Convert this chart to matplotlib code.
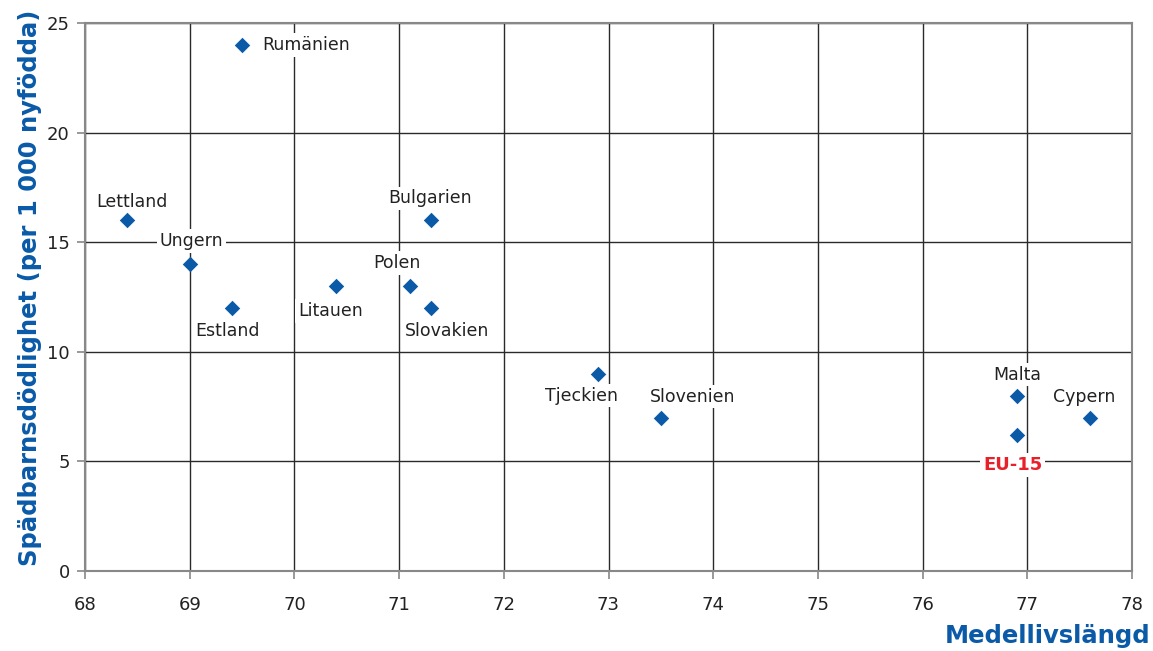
import matplotlib
matplotlib.use("Agg")
import matplotlib.pyplot as plt

countries = ["Rumänien", "Lettland", "Ungern", "Estland", "Litauen", "Bulgarien",
             "Polen", "Slovakien", "Tjeckien", "Slovenien", "Malta", "Cypern", "EU-15"]
life_exp = [69.5, 68.4, 69.0, 69.4, 70.4, 71.3, 71.1, 71.3, 72.9, 73.5, 76.9, 77.6, 76.9]
infant_mort = [24, 16, 14, 12, 13, 16, 13, 12, 9, 7, 8, 7, 6.2]

x_ticks = [68, 69, 70, 71, 72, 73, 74, 75, 76, 77, 78]
y_ticks = [0, 5, 10, 15, 20, 25]

# label offsets in pixels (dx, dy), alignment
offsets = {
    "Rumänien": (20, 0, "left"),
    "Lettland": (5, 18, "center"),
    "Ungern": (2, 23, "center"),
    "Estland": (-4, -23, "center"),
    "Litauen": (-6, -25, "center"),
    "Bulgarien": (0, 22, "center"),
    "Polen": (-13, 23, "center"),
    "Slovakien": (17, -23, "center"),
    "Tjeckien": (-17, -22, "center"),
    "Slovenien": (32, 21, "center"),
    "Malta": (0, 21, "center"),
    "Cypern": (-6, 21, "center"),
    "EU-15": (-4, -30, "center"),
}

blue = "#0a5aa8"
fig = plt.figure(figsize=(11.53, 6.51), dpi=100)
ax = fig.add_axes([85/1153, 80/651, (1132-85)/1153, (571-23)/651])
ax.set_xlim(68, 78)
ax.set_ylim(0, 25)
ax.set_xticks(x_ticks)
ax.set_yticks(y_ticks)
ax.grid(True, color="#2a2a2a", linewidth=1.0)
ax.set_axisbelow(True)
for s in ax.spines.values():
    s.set_color("#888888")
    s.set_linewidth(1.5)
ax.tick_params(axis="both", length=6, color="#888888", width=1.2, labelsize=13,
               labelcolor="#222222")
ax.tick_params(axis="x", pad=12)
ax.tick_params(axis="y", pad=5)

ax.scatter(life_exp, infant_mort, marker="D", s=62, color=blue, zorder=5, linewidths=0)

for name, x, y in zip(countries, life_exp, infant_mort):
    dx, dy, ha = offsets[name]
    if name == "EU-15":
        kw = dict(color="#e8202a", fontweight="bold", fontsize=13)
    else:
        kw = dict(color="#222222", fontsize=12.5)
    ax.annotate(name, (x, y), xytext=(dx * 0.72, dy * 0.72), textcoords="offset points",
                ha=ha, va="center", zorder=4,
                bbox=dict(facecolor="white", edgecolor="none", pad=2), **kw)

fig.text(1150/1153, 1 - 636/651, "Medellivslängd", ha="right", va="center",
         color=blue, fontweight="bold", fontsize=17.5)
fig.text(30/1153, 1 - 288/651, "Spädbarnsdödlighet (per 1 000 nyfödda)", ha="center",
         va="center", rotation=90, color=blue, fontweight="bold", fontsize=17.5)

fig.savefig("out.png", dpi=100, facecolor="white")
